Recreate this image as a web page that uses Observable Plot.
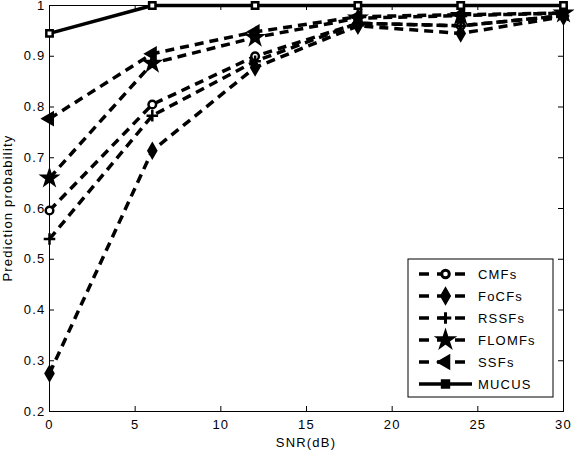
<!DOCTYPE html>
<html lang="en">
<head>
    <meta charset="UTF-8">
    <title>Prediction probability vs SNR</title>
    <style>
        body {
            margin: 0;
            background: #fff;
        }
        #chart svg {
            font-family: "Liberation Sans", Arial, Helvetica, sans-serif;
        }
        #chart svg text {
            letter-spacing: 1.2px;
        }
    </style>
    <script src="https://cdn.jsdelivr.net/npm/d3@7"></script>
    <script src="https://cdn.jsdelivr.net/npm/@observablehq/plot@0.6"></script>
</head>
<body>
    <div id="chart"></div>

    <script>
        // Data
        const snr = [0, 6, 12, 18, 24, 30];
        const seriesNames = ["CMFs", "FoCFs", "RSSFs", "FLOMFs", "SSFs", "MUCUS"];
        const cmfs   = [0.596, 0.805, 0.900, 0.965, 0.960, 0.980];
        const focfs  = [0.275, 0.714, 0.878, 0.960, 0.945, 0.978];
        const rssfs  = [0.540, 0.783, 0.890, 0.965, 0.960, 0.980];
        const flomfs = [0.660, 0.886, 0.937, 0.975, 0.980, 0.985];
        const ssfs   = [0.777, 0.905, 0.948, 0.978, 0.982, 0.985];
        const mucus  = [0.945, 1.000, 1.000, 1.000, 1.000, 1.000];
        const xTicks = [0, 5, 10, 15, 20, 25, 30];
        const yTicks = [0.2, 0.3, 0.4, 0.5, 0.6, 0.7, 0.8, 0.9, 1];

        const values = [cmfs, focfs, rssfs, flomfs, ssfs, mucus];

        // marker look per series
        const markers = {
            CMFs:   {symbol: "circle",   r: 3.8, fill: "white", legendFill: "white", rotate: 0},
            FoCFs:  {symbol: "diamond",  r: 4.1, fill: "black", legendFill: "black", rotate: 0},
            RSSFs:  {symbol: "plus",     r: 3.8, fill: "none",  legendFill: "none",  rotate: 0},
            FLOMFs: {symbol: "star",     r: 4.5, fill: "black", legendFill: "black", rotate: 0},
            SSFs:   {symbol: "triangle", r: 4.2, fill: "black", legendFill: "black", rotate: -90},
            MUCUS:  {symbol: "square",   r: 3.6, fill: "white", legendFill: "black", rotate: 0}
        };

        const data = [];
        seriesNames.forEach((name, k) => {
            snr.forEach((x, i) => data.push({series: name, snr: x, p: values[k][i]}));
        });

        const W = 574, H = 452;
        const mTop = 5, mRight = 11, mBottom = 41, mLeft = 49;
        const innerH = H - mTop - mBottom;
        const innerW = W - mLeft - mRight;
        const tick = 5;

        const dashed = data.filter(d => d.series !== "MUCUS");
        const solid = data.filter(d => d.series === "MUCUS");

        const dotMarks = seriesNames.map(name => {
            const m = markers[name];
            return Plot.dot(data.filter(d => d.series === name), {
                x: "snr", y: "p",
                symbol: () => m.symbol,
                r: m.r,
                fill: m.fill,
                stroke: "black",
                strokeWidth: 2.5,
                rotate: m.rotate
            });
        });

        const plot = Plot.plot({
            width: W,
            height: H,
            marginTop: mTop,
            marginRight: mRight,
            marginBottom: mBottom,
            marginLeft: mLeft,
            style: {fontSize: "13px", background: "#fff", color: "#000", overflow: "visible"},
            x: {domain: [0, 30]},
            y: {domain: [0.2, 1]},
            symbol: {type: "identity"},
            marks: [
                // inward ticks on all four sides
                Plot.ruleX(xTicks, {x: d => d, insetTop: innerH - tick, stroke: "black"}),
                Plot.ruleX(xTicks, {x: d => d, insetBottom: innerH - tick, stroke: "black"}),
                Plot.ruleY(yTicks, {y: d => d, insetRight: innerW - tick, stroke: "black"}),
                Plot.ruleY(yTicks, {y: d => d, insetLeft: innerW - tick, stroke: "black"}),
                Plot.frame({stroke: "black", strokeWidth: 1}),
                Plot.axisX({ticks: xTicks, tickSize: 0, tickPadding: 8, label: null}),
                Plot.axisY({ticks: yTicks, tickSize: 0, tickPadding: 4, label: null,
                    tickFormat: d => d === 1 ? "1" : d.toFixed(1)}),
                Plot.line(dashed, {x: "snr", y: "p", z: "series", stroke: "black",
                    strokeWidth: 3.5, strokeDasharray: "9,6", strokeLinecap: "butt"}),
                Plot.line(solid, {x: "snr", y: "p", stroke: "black", strokeWidth: 3.5}),
                ...dotMarks
            ]
        });

        const svg = d3.select(plot);

        // axis titles
        svg.append("text")
            .attr("x", mLeft + innerW / 2).attr("y", H - 5)
            .attr("text-anchor", "middle").attr("font-size", 13)
            .text("SNR(dB)");
        svg.append("text")
            .attr("transform", `translate(12,${mTop + innerH / 2}) rotate(-90)`)
            .attr("text-anchor", "middle").attr("font-size", 13)
            .text("Prediction probability");

        // legend box (lower right, inside the axes)
        const lg = svg.append("g").attr("transform", "translate(408,259)");
        lg.append("rect").attr("width", 145).attr("height", 138)
            .attr("fill", "white").attr("stroke", "black");
        const d3sym = {circle: d3.symbolCircle, diamond: d3.symbolDiamond, plus: d3.symbolPlus,
            star: d3.symbolStar, triangle: d3.symbolTriangle, square: d3.symbolSquare};
        seriesNames.forEach((name, i) => {
            const m = markers[name];
            const y = 15 + i * 22;
            lg.append("line")
                .attr("x1", 11).attr("x2", 64).attr("y1", y).attr("y2", y)
                .attr("stroke", "black").attr("stroke-width", 3.5)
                .attr("stroke-dasharray", name === "MUCUS" ? null : "10,8");
            lg.append("path")
                .attr("d", d3.symbol(d3sym[m.symbol], m.r * m.r * Math.PI)())
                .attr("transform", `translate(37.5,${y}) rotate(${m.rotate})`)
                .attr("fill", m.legendFill)
                .attr("stroke", "black").attr("stroke-width", 3);
            lg.append("text")
                .attr("x", 70).attr("y", y).attr("dy", "0.35em")
                .attr("text-anchor", "start")
                .attr("font-size", 13).text(name);
        });

        document.getElementById("chart").appendChild(plot);
    </script>
</body>
</html>
